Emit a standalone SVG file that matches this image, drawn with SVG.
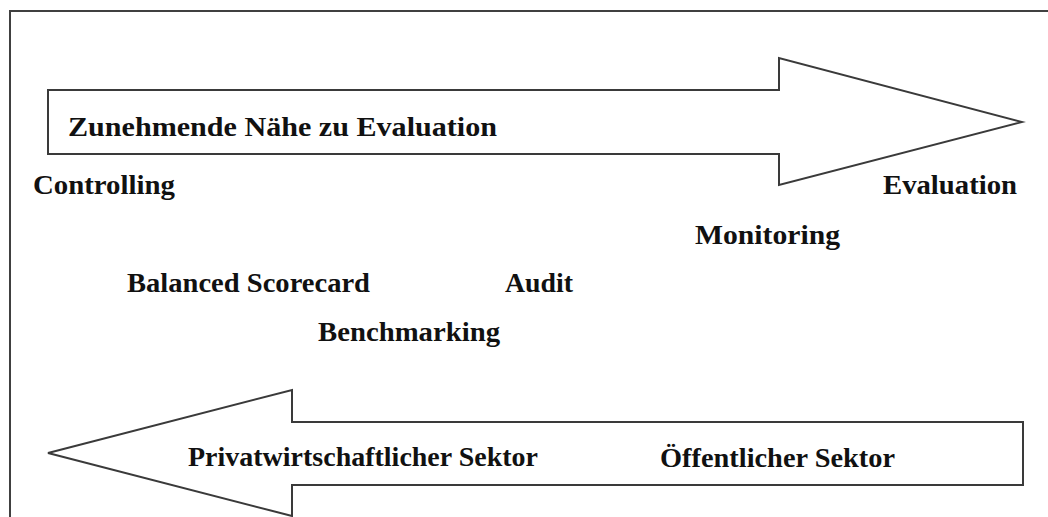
<svg xmlns="http://www.w3.org/2000/svg" width="1048" height="517" viewBox="0 0 1048 517">
<style>
.t{font-family:"Liberation Serif","Times New Roman",serif;font-weight:bold;font-size:28px;fill:#111}
.ar{fill:#fff;stroke:#3a3a3a;stroke-width:2;stroke-linejoin:miter}
</style>
<rect x="0" y="0" width="1048" height="517" fill="#fff"/>
<rect id="frame" x="10" y="11" width="1100" height="600" fill="none" stroke="#404040" stroke-width="2"/>
<g id="connectors">
<g id="arrow-top">
<polygon class="ar" points="48,90 779,90 779,58 1022,122 779,185 779,154 48,154"/>
<text class="t" x="68" y="136" textLength="429" lengthAdjust="spacingAndGlyphs">Zunehmende Nähe zu Evaluation</text>
</g>
<g id="arrow-bottom">
<polygon class="ar" points="1023,422 292,422 292,390 48,453 292,516 292,485 1023,485"/>
<text class="t" x="188" y="466" textLength="350" lengthAdjust="spacingAndGlyphs">Privatwirtschaftlicher Sektor</text>
<text class="t" x="660" y="467" textLength="235" lengthAdjust="spacingAndGlyphs">Öffentlicher Sektor</text>
</g>
</g>
<g id="controlling"><text class="t" x="33" y="194" textLength="142" lengthAdjust="spacingAndGlyphs">Controlling</text></g>
<g id="evaluation"><text class="t" x="883" y="194" textLength="134" lengthAdjust="spacingAndGlyphs">Evaluation</text></g>
<g id="monitoring"><text class="t" x="695" y="244" textLength="145" lengthAdjust="spacingAndGlyphs">Monitoring</text></g>
<g id="bsc"><text class="t" x="127" y="292" textLength="243" lengthAdjust="spacingAndGlyphs">Balanced Scorecard</text></g>
<g id="audit"><text class="t" x="505" y="292" textLength="68" lengthAdjust="spacingAndGlyphs">Audit</text></g>
<g id="benchmarking"><text class="t" x="318" y="341" textLength="182" lengthAdjust="spacingAndGlyphs">Benchmarking</text></g>
</svg>
